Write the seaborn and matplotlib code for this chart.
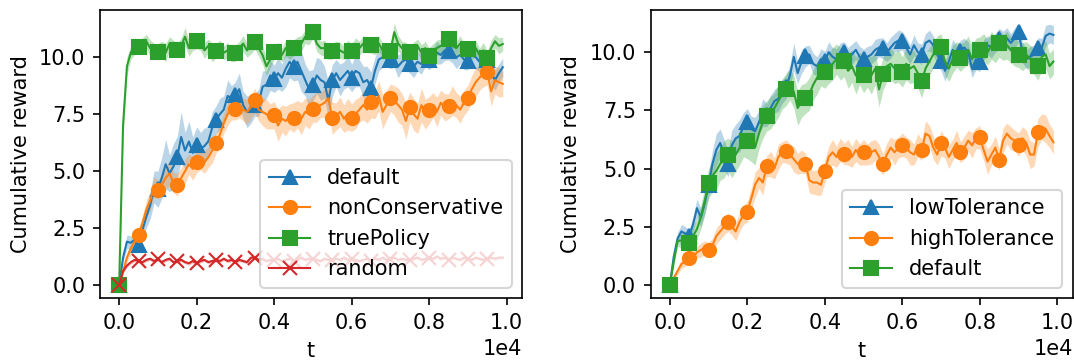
import numpy as np
import matplotlib
matplotlib.use("Agg")
import matplotlib.pyplot as plt
import seaborn as sns

# Sampling grid of the training curves (every 100 steps)
steps = np.arange(0, 10000, 100)

# ---- left panel: mean cumulative reward and confidence half-width ----
left_default = [
    0, 1.2, 1.9, 1.85, 2.0, 1.75, 2.4, 3.0, 3.5, 4.3,
    4.2, 4.7, 5.3, 4.9, 5.2, 5.63, 6.5, 5.9, 6.3, 5.8,
    6.14, 6.0, 6.1, 6.3, 6.9, 7.26, 7.5, 7.7, 8.3, 8.2,
    8.32, 8.6, 7.9, 7.6, 7.7, 7.9, 8.0, 8.7, 8.8, 9.2,
    9.05, 9.3, 9.1, 9.5, 9.8, 9.56, 9.8, 9.4, 9.0, 8.6,
    8.76, 9.2, 9.0, 8.9, 8.1, 8.98, 9.3, 9.0, 9.2, 9.4,
    9.09, 9.4, 9.3, 8.9, 9.0, 8.66, 9.4, 9.9, 10.0, 10.1,
    9.9, 10.0, 9.6, 9.8, 9.9, 9.7, 9.6, 9.8, 9.7, 10.0,
    9.9, 10.0, 10.2, 10.1, 10.3, 10.28, 10.2, 10.0, 10.1, 9.9,
    9.85, 10.1, 10.0, 9.8, 9.9, 9.9, 9.3, 9.0, 9.3, 9.56]
left_default_ci = [
    0.0, 0.2, 0.3, 0.3, 0.35, 0.35, 0.45, 0.5, 0.6, 0.7,
    0.8, 0.9, 1.1, 0.8, 1.0, 0.9, 1.1, 0.8, 0.9, 0.7,
    0.8, 0.7, 0.8, 0.6, 0.7, 0.6, 0.7, 0.6, 0.7, 0.55,
    0.6, 0.7, 0.6, 0.7, 0.6, 0.5, 0.6, 0.7, 0.6, 0.65,
    0.6, 0.7, 0.6, 0.8, 0.7, 0.6, 0.8, 0.9, 0.7, 0.8,
    0.7, 0.8, 0.9, 0.7, 0.8, 0.7, 0.6, 0.7, 0.6, 0.7,
    0.6, 0.7, 0.6, 0.7, 0.6, 0.7, 0.6, 0.5, 0.45, 0.5,
    0.4, 0.45, 0.5, 0.4, 0.45, 0.4, 0.5, 0.4, 0.45, 0.4,
    0.45, 0.4, 0.5, 0.4, 0.45, 0.4, 0.45, 0.5, 0.4, 0.45,
    0.4, 0.45, 0.5, 0.45, 0.4, 0.45, 0.5, 0.45, 0.4, 0.4]

left_noncons = [
    0, 0.6, 1.2, 1.6, 1.9, 2.2, 2.7, 3.3, 3.7, 4.3,
    4.18, 4.4, 4.7, 4.9, 4.5, 4.4, 4.7, 5.0, 5.3, 5.1,
    5.42, 5.5, 5.4, 5.6, 5.9, 6.22, 6.6, 7.1, 7.5, 7.7,
    7.74, 7.8, 7.7, 7.6, 7.8, 8.1, 7.7, 7.6, 7.5, 7.4,
    7.45, 7.0, 7.3, 7.2, 7.4, 7.35, 7.5, 7.3, 7.6, 7.5,
    7.74, 7.8, 7.9, 8.0, 8.2, 7.31, 7.4, 7.6, 7.3, 7.5,
    7.35, 7.5, 7.7, 7.9, 7.7, 8.03, 7.9, 8.3, 7.6, 7.9,
    8.22, 8.1, 7.9, 7.7, 7.2, 7.81, 7.5, 7.3, 7.9, 7.5,
    7.67, 7.9, 7.6, 8.0, 7.8, 7.84, 8.1, 7.9, 7.7, 8.0,
    8.22, 8.6, 8.9, 9.1, 9.3, 9.34, 8.5, 9.0, 8.9, 8.83]
left_noncons_ci = [
    0.0, 0.15, 0.2, 0.25, 0.3, 0.3, 0.35, 0.4, 0.4, 0.45,
    0.4, 0.5, 0.45, 0.55, 0.45, 0.5, 0.45, 0.55, 0.45, 0.5,
    0.5, 0.45, 0.5, 0.45, 0.55, 0.45, 0.5, 0.45, 0.5, 0.45,
    0.5, 0.45, 0.5, 0.55, 0.5, 0.55, 0.5, 0.6, 0.65, 0.55,
    0.6, 0.7, 0.6, 0.65, 0.55, 0.65, 0.6, 0.7, 0.6, 0.65,
    0.6, 0.65, 0.55, 0.65, 0.6, 0.7, 0.6, 0.65, 0.6, 0.7,
    0.6, 0.65, 0.55, 0.65, 0.6, 0.7, 0.6, 0.65, 0.75, 0.65,
    0.6, 0.65, 0.75, 0.7, 0.8, 0.65, 0.7, 0.65, 0.75, 0.65,
    0.6, 0.55, 0.65, 0.55, 0.6, 0.55, 0.65, 0.55, 0.6, 0.55,
    0.55, 0.6, 0.65, 0.55, 0.6, 0.55, 0.65, 0.6, 0.65, 0.55]

left_true = [
    0, 7.0, 9.6, 10.2, 10.5, 10.43, 10.5, 10.7, 10.4, 10.3,
    10.25, 10.4, 10.2, 10.6, 10.4, 10.31, 10.5, 10.9, 10.4, 10.6,
    10.72, 10.6, 10.3, 10.5, 10.2, 10.28, 10.4, 10.2, 10.3, 10.1,
    10.17, 10.4, 10.6, 10.3, 10.5, 10.65, 10.4, 10.1, 9.6, 9.9,
    10.21, 10.3, 10.1, 10.4, 10.2, 10.4, 10.6, 10.6, 10.9, 10.9,
    11.12, 10.6, 10.4, 10.4, 10.2, 10.28, 10.4, 10.3, 10.2, 10.4,
    10.28, 10.5, 10.4, 10.6, 10.5, 10.54, 10.4, 10.6, 10.3, 10.2,
    10.28, 11.1, 10.6, 10.4, 10.3, 10.21, 10.3, 10.5, 10.2, 10.4,
    10.07, 10.3, 10.4, 10.5, 10.6, 10.79, 10.5, 10.4, 10.6, 10.3,
    10.36, 10.2, 10.4, 10.1, 10.3, 9.97, 10.4, 10.7, 10.5, 10.58]
left_true_ci = [
    0.0, 0.5, 0.4, 0.3, 0.35, 0.3, 0.35, 0.3, 0.35, 0.3,
    0.35, 0.3, 0.4, 0.3, 0.35, 0.3, 0.35, 0.4, 0.35, 0.3,
    0.35, 0.3, 0.35, 0.3, 0.4, 0.3, 0.35, 0.3, 0.35, 0.3,
    0.35, 0.3, 0.35, 0.3, 0.35, 0.3, 0.35, 0.4, 0.4, 0.35,
    0.3, 0.35, 0.3, 0.35, 0.3, 0.35, 0.3, 0.35, 0.3, 0.35,
    0.3, 0.35, 0.3, 0.35, 0.3, 0.35, 0.3, 0.35, 0.3, 0.35,
    0.3, 0.35, 0.3, 0.35, 0.3, 0.35, 0.3, 0.35, 0.3, 0.35,
    0.3, 0.4, 0.35, 0.3, 0.35, 0.3, 0.35, 0.3, 0.35, 0.3,
    0.35, 0.3, 0.35, 0.3, 0.35, 0.3, 0.35, 0.3, 0.35, 0.3,
    0.35, 0.3, 0.35, 0.3, 0.35, 0.3, 0.35, 0.3, 0.35, 0.3]

left_random = [
    0, 0.6, 0.85, 1.0, 1.1, 1.05, 1.0, 1.1, 1.15, 1.05,
    1.13, 1.0, 1.1, 1.15, 1.0, 1.05, 1.1, 1.0, 0.95, 1.05,
    0.95, 1.05, 1.1, 1.0, 1.05, 1.1, 1.05, 1.15, 1.05, 1.1,
    1.0, 1.1, 1.05, 1.0, 1.2, 1.2, 1.1, 1.15, 1.05, 1.1,
    1.1, 1.15, 1.05, 1.1, 1.15, 1.05, 1.1, 1.2, 1.1, 1.15,
    1.15, 1.1, 1.05, 1.15, 1.1, 1.1, 1.15, 1.1, 1.2, 1.1,
    1.15, 1.1, 1.05, 1.1, 1.15, 1.05, 1.15, 1.1, 1.2, 1.1,
    1.15, 1.2, 1.1, 1.15, 1.1, 1.1, 1.15, 1.2, 1.1, 1.15,
    1.2, 1.15, 1.25, 1.15, 1.2, 1.1, 1.2, 1.15, 1.1, 1.2,
    1.15, 1.1, 1.2, 1.15, 1.1, 1.15, 1.2, 1.15, 1.2, 1.2]
left_random_ci = [
    0.0, 0.06, 0.08, 0.08, 0.07, 0.08, 0.07, 0.08, 0.07, 0.08,
    0.07, 0.08, 0.07, 0.08, 0.07, 0.08, 0.07, 0.08, 0.07, 0.08,
    0.07, 0.08, 0.07, 0.08, 0.07, 0.08, 0.07, 0.08, 0.07, 0.08,
    0.07, 0.08, 0.07, 0.08, 0.07, 0.08, 0.07, 0.08, 0.07, 0.08,
    0.07, 0.08, 0.07, 0.08, 0.07, 0.08, 0.07, 0.08, 0.07, 0.08,
    0.07, 0.08, 0.07, 0.08, 0.07, 0.08, 0.07, 0.08, 0.07, 0.08,
    0.07, 0.08, 0.07, 0.08, 0.07, 0.08, 0.07, 0.08, 0.07, 0.08,
    0.07, 0.08, 0.07, 0.08, 0.07, 0.08, 0.07, 0.08, 0.07, 0.08,
    0.07, 0.08, 0.07, 0.08, 0.07, 0.08, 0.07, 0.08, 0.07, 0.08,
    0.07, 0.08, 0.07, 0.08, 0.07, 0.08, 0.07, 0.08, 0.07, 0.08]

# ---- right panel ----
right_low = [
    0, 1.2, 2.0, 2.3, 2.2, 2.1, 2.6, 3.3, 2.9, 3.5,
    4.3, 5.2, 5.8, 6.1, 5.6, 5.2, 6.0, 6.3, 6.4, 6.8,
    6.98, 6.7, 6.6, 7.0, 7.4, 7.3, 7.6, 7.9, 8.0, 8.3,
    8.5, 9.0, 9.8, 9.1, 9.6, 9.82, 9.9, 9.5, 9.4, 9.7,
    9.63, 10.0, 9.8, 9.7, 10.0, 10.0, 9.8, 9.9, 10.1, 9.8,
    9.72, 9.8, 9.9, 10.1, 10.2, 10.17, 10.0, 10.2, 10.4, 10.5,
    10.49, 10.2, 9.9, 10.3, 10.0, 9.89, 10.4, 10.5, 10.3, 9.9,
    9.6, 9.2, 9.6, 10.1, 9.9, 10.06, 10.2, 10.0, 9.3, 9.7,
    9.57, 10.1, 10.3, 10.2, 10.4, 10.57, 10.5, 10.6, 10.4, 10.6,
    10.85, 10.0, 9.7, 9.8, 9.9, 10.17, 10.2, 10.7, 10.8, 10.74]
right_low_ci = [
    0.0, 0.2, 0.25, 0.3, 0.3, 0.3, 0.35, 0.4, 0.4, 0.45,
    0.5, 0.6, 0.7, 0.6, 0.65, 0.55, 0.65, 0.6, 0.7, 0.6,
    0.6, 0.55, 0.6, 0.5, 0.6, 0.5, 0.55, 0.5, 0.55, 0.5,
    0.5, 0.45, 0.6, 0.45, 0.5, 0.45, 0.4, 0.45, 0.4, 0.45,
    0.4, 0.45, 0.4, 0.45, 0.4, 0.45, 0.4, 0.45, 0.4, 0.45,
    0.4, 0.45, 0.4, 0.45, 0.4, 0.45, 0.4, 0.45, 0.4, 0.45,
    0.4, 0.45, 0.4, 0.45, 0.4, 0.45, 0.4, 0.45, 0.4, 0.45,
    0.4, 0.45, 0.4, 0.45, 0.4, 0.45, 0.4, 0.45, 0.4, 0.45,
    0.4, 0.45, 0.4, 0.45, 0.4, 0.45, 0.4, 0.45, 0.4, 0.45,
    0.4, 0.45, 0.4, 0.45, 0.4, 0.45, 0.4, 0.45, 0.4, 0.4]

right_high = [
    0, 0.3, 0.6, 0.9, 1.0, 1.14, 1.2, 1.4, 1.5, 1.6,
    1.52, 1.7, 2.1, 2.3, 2.5, 2.7, 2.5, 2.3, 2.7, 3.0,
    3.15, 3.7, 4.3, 4.6, 4.4, 5.09, 5.2, 5.0, 5.5, 5.7,
    5.74, 5.6, 5.4, 5.2, 5.3, 5.21, 4.5, 4.4, 4.4, 4.3,
    4.89, 5.5, 5.7, 5.5, 5.8, 5.63, 5.7, 5.5, 5.8, 5.6,
    5.70, 5.6, 5.7, 5.8, 5.5, 5.18, 5.6, 5.9, 5.7, 5.9,
    6.03, 5.9, 5.7, 5.6, 6.0, 5.8, 6.5, 6.4, 5.9, 5.6,
    6.09, 5.9, 5.5, 5.8, 6.1, 5.70, 5.9, 6.2, 6.0, 6.3,
    6.34, 5.8, 5.3, 5.6, 5.9, 5.38, 6.2, 6.5, 6.3, 6.2,
    6.03, 6.3, 6.1, 5.6, 5.6, 6.55, 6.8, 6.7, 6.4, 6.13]
right_high_ci = [
    0.0, 0.12, 0.15, 0.2, 0.2, 0.2, 0.25, 0.25, 0.3, 0.3,
    0.3, 0.3, 0.35, 0.35, 0.35, 0.4, 0.35, 0.4, 0.4, 0.4,
    0.45, 0.45, 0.55, 0.45, 0.55, 0.45, 0.55, 0.45, 0.55, 0.45,
    0.5, 0.45, 0.55, 0.45, 0.5, 0.45, 0.55, 0.5, 0.55, 0.45,
    0.5, 0.45, 0.55, 0.45, 0.5, 0.45, 0.55, 0.45, 0.5, 0.45,
    0.55, 0.45, 0.5, 0.45, 0.55, 0.45, 0.5, 0.45, 0.55, 0.45,
    0.5, 0.45, 0.55, 0.45, 0.5, 0.45, 0.55, 0.45, 0.5, 0.45,
    0.55, 0.45, 0.5, 0.45, 0.55, 0.45, 0.5, 0.45, 0.55, 0.45,
    0.5, 0.45, 0.55, 0.45, 0.5, 0.45, 0.55, 0.45, 0.5, 0.45,
    0.5, 0.5, 0.55, 0.6, 0.5, 0.6, 0.55, 0.6, 0.5, 0.5]

right_default = [
    0, 1.0, 1.9, 1.9, 2.0, 1.8, 2.1, 2.4, 2.9, 3.6,
    4.36, 4.7, 4.9, 5.2, 5.4, 5.6, 5.4, 5.6, 5.9, 6.2,
    6.17, 6.0, 5.9, 6.5, 7.0, 7.26, 7.4, 7.6, 7.9, 8.2,
    8.4, 8.6, 8.3, 7.6, 7.9, 8.02, 8.2, 8.6, 8.9, 9.2,
    9.15, 9.3, 9.5, 9.7, 9.5, 9.6, 9.2, 9.4, 9.0, 9.3,
    9.01, 9.2, 9.0, 9.3, 8.4, 9.07, 9.4, 9.5, 9.3, 9.4,
    9.15, 9.5, 9.3, 9.4, 9.1, 8.75, 9.3, 9.6, 9.9, 10.1,
    10.24, 9.6, 9.3, 9.7, 9.9, 9.77, 9.9, 10.1, 9.7, 10.0,
    10.1, 10.2, 10.0, 10.3, 10.1, 10.38, 10.2, 10.3, 10.1, 10.0,
    9.89, 9.8, 9.9, 9.7, 9.6, 9.39, 9.8, 9.9, 9.4, 9.6]
right_default_ci = [
    0.0, 0.2, 0.25, 0.3, 0.3, 0.35, 0.4, 0.45, 0.5, 0.6,
    0.65, 0.7, 0.8, 0.7, 0.8, 0.7, 0.8, 0.7, 0.75, 0.7,
    0.75, 0.7, 0.75, 0.65, 0.7, 0.65, 0.7, 0.65, 0.7, 0.65,
    0.7, 0.65, 0.7, 0.75, 0.7, 0.65, 0.7, 0.65, 0.7, 0.65,
    0.7, 0.65, 0.7, 0.65, 0.7, 0.65, 0.75, 0.7, 0.8, 0.7,
    0.75, 0.7, 0.8, 0.7, 0.75, 0.7, 0.65, 0.7, 0.65, 0.7,
    0.65, 0.7, 0.65, 0.7, 0.65, 0.7, 0.65, 0.6, 0.55, 0.6,
    0.55, 0.6, 0.55, 0.6, 0.55, 0.6, 0.55, 0.6, 0.55, 0.6,
    0.55, 0.6, 0.55, 0.6, 0.55, 0.6, 0.55, 0.6, 0.55, 0.6,
    0.55, 0.6, 0.55, 0.6, 0.55, 0.6, 0.55, 0.6, 0.55, 0.55]

palette = sns.color_palette("tab10")

left_series = [
    ("default", left_default, left_default_ci, palette[0], "^"),
    ("nonConservative", left_noncons, left_noncons_ci, palette[1], "o"),
    ("truePolicy", left_true, left_true_ci, palette[2], "s"),
    ("random", left_random, left_random_ci, palette[3], "x"),
]
right_series = [
    ("lowTolerance", right_low, right_low_ci, palette[0], "^"),
    ("highTolerance", right_high, right_high_ci, palette[1], "o"),
    ("default", right_default, right_default_ci, palette[2], "s"),
]

fig, axes = plt.subplots(1, 2, figsize=(7.16, 2.42), dpi=150)
fig.subplots_adjust(left=0.0931, right=0.9987, bottom=0.179, top=0.9725, wspace=0.305)


def draw_panel(ax, series):
    for name, mean, ci, color, marker in series:
        mean = np.asarray(mean, dtype=float)
        ci = np.asarray(ci, dtype=float)
        ax.fill_between(steps, mean - ci, mean + ci, color=color, alpha=0.3, lw=0)
        sns.lineplot(x=steps, y=mean, ax=ax, color=color, marker=marker,
                     markevery=5, markersize=6.3, linewidth=1.0,
                     markeredgecolor=color, markeredgewidth=1.0,
                     errorbar=None, label=name)
    ax.ticklabel_format(axis="x", style="sci", scilimits=(0, 0))
    ax.set_xlabel("t")
    ax.set_ylabel("Cumulative reward")
    ax.legend(loc="lower right")


draw_panel(axes[0], left_series)
draw_panel(axes[1], right_series)

fig.savefig("out.png", dpi=150)
